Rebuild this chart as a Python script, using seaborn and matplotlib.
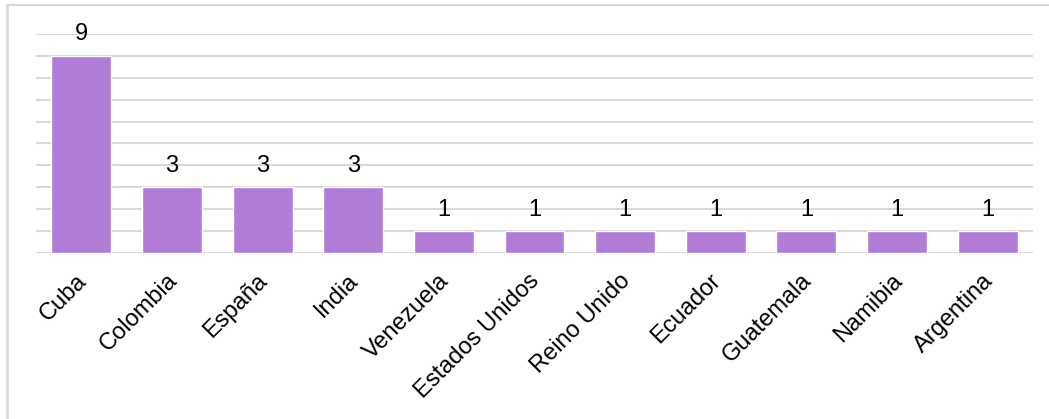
import matplotlib
matplotlib.use("Agg")
import matplotlib.pyplot as plt
import matplotlib.transforms as mtransforms
import seaborn as sns
import pandas as pd
from matplotlib.lines import Line2D

categories = ["Cuba", "Colombia", "España", "India", "Venezuela", "Estados Unidos",
              "Reino Unido", "Ecuador", "Guatemala", "Namibia", "Argentina"]
values = [9, 3, 3, 3, 1, 1, 1, 1, 1, 1, 1]

df = pd.DataFrame({"pais": categories, "n": values})

sns.set_theme(style="white")
plt.rcParams["font.family"] = ["Liberation Sans", "DejaVu Sans"]

W, H = 1049, 419
fig = plt.figure(figsize=(W / 100, H / 100), dpi=100)
ax = fig.add_axes([36 / W, 1 - 253 / H, (1033 - 36) / W, (253 - 34) / H])

sns.barplot(data=df, x="pais", y="n", color="#B07CD8", saturation=1, width=0.66,
            ax=ax, zorder=3)

ax.set_ylim(0, 10)
ax.set_xlim(-0.5, len(categories) - 0.5)
ax.set_yticks(range(0, 11))
ax.yaxis.grid(True, color="#D9D9D9", linewidth=1.5, zorder=0)
ax.set_axisbelow(True)
ax.tick_params(axis="y", left=False, labelleft=False)
ax.tick_params(axis="x", bottom=False, pad=6)
for s in ax.spines.values():
    s.set_visible(False)
ax.set_xlabel("")
ax.set_ylabel("")

ax.set_xticks(range(len(categories)))
ax.set_xticklabels(categories, rotation=45, ha="right", rotation_mode="anchor",
                   fontsize=17, color="#000000")
offset = mtransforms.ScaledTranslation(-6 / 100, 0, fig.dpi_scale_trans)
for lab in ax.get_xticklabels():
    lab.set_transform(lab.get_transform() + offset)

for i, v in enumerate(values):
    ax.annotate(str(v), (i, v), xytext=(0, 7.5), textcoords="offset points",
                ha="center", va="bottom", fontsize=17, color="#000000")

# outer chart frame (top and left edges visible)
fig.add_artist(Line2D([6.5 / W, 6.5 / W], [0, 1 - 5.5 / H], transform=fig.transFigure,
                      color="#D9D9D9", linewidth=2))
fig.add_artist(Line2D([6.5 / W, 1], [1 - 5.5 / H, 1 - 5.5 / H], transform=fig.transFigure,
                      color="#D9D9D9", linewidth=1.5))

fig.savefig("out.png", dpi=100)
